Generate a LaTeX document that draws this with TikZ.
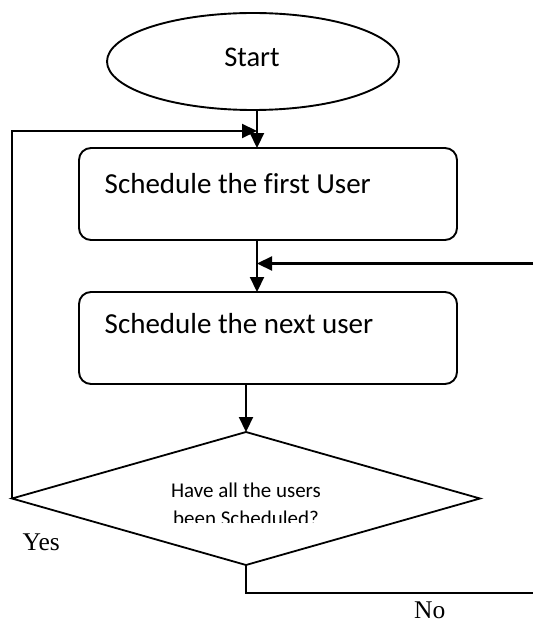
\documentclass[tikz,border=0pt]{standalone}
\usepackage{fontspec}
\setmainfont{Carlito}[Ligatures=NoCommon]
\newfontfamily\serifyn{Liberation Serif}
\usetikzlibrary{shapes.geometric,arrows.meta}
\begin{document}
\begin{tikzpicture}[x=1pt,y=-1pt,
  shapeline/.style={draw=black,line width=1.9pt,inner sep=0pt,outer sep=0pt},
  procbox/.style={shapeline,rectangle,rounded corners=12pt,minimum width=378pt,minimum height=92pt},
  conn/.style={line width=2.2pt,black},
  arr/.style={conn,-{Triangle[length=15pt,width=14pt]}},
  boxtext/.style={inner sep=0pt,anchor=base west,font=\fontsize{29}{32}\selectfont},
  qtext/.style={inner sep=0pt,anchor=base,font=\fontsize{21}{24}\selectfont},
  yntext/.style={inner sep=0pt,anchor=base west,font=\serifyn\fontsize{25.5}{28}\selectfont}]
\useasboundingbox (0,0) rectangle (533,623);
% shapes
\node[shapeline,ellipse,minimum width=292pt,minimum height=97pt] (start) at (253,61.5) {};
\node[inner sep=0pt,anchor=base,font=\fontsize{28.5}{32}\selectfont] (starttxt) at (252,67) {Start};
\node[procbox] (b1) at (268,194) {};
\node[boxtext] (b1txt) at (104.5,193) {Schedule the first User};
\node[procbox] (b2) at (268,338) {};
\node[boxtext] (b2txt) at (104.5,333) {Schedule the next user};
\node[shapeline,line width=1.8pt,diamond,minimum width=468pt,minimum height=133pt] (dec) at (246,498.5) {};
\node[qtext] (q1) at (246,497) {Have all the users};
\begin{scope}
  \clip (0,0) rectangle (533,522);
  \node[qtext] (q2) at (246,525) {been Scheduled?};
\end{scope}
\node[yntext] (yes) at (22.5,550) {Yes};
\node[yntext] (no) at (414,618) {No};
% junction coordinates
\coordinate (j1) at (257,131);
\coordinate (j2) at (257,263.5);
\coordinate (r1) at (533,263.5);
\coordinate (r2) at (533,593);
% connectors
\draw[arr] (start.south -| j1) -- (b1.north -| j1);
\draw[arr] (b1.south -| j1) -- (b2.north -| j1);
\draw[arr] (b2.south -| dec.north) -- (dec.north);
\draw[arr] (dec.west) |- (j1);
\draw[arr] (r1) -- (j2);
\draw[conn] (dec.south) |- (r2);
\end{tikzpicture}
\end{document}
